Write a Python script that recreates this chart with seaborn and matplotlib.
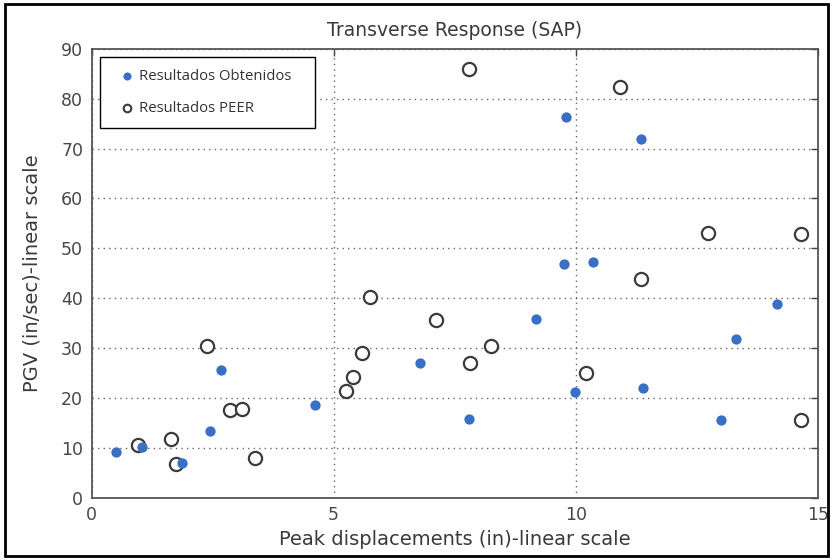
import matplotlib
matplotlib.use("Agg")
import matplotlib.pyplot as plt
import seaborn as sns
import pandas as pd
from matplotlib.patches import Rectangle

# Resultados Obtenidos (filled markers)
obt_disp = [0.51, 1.04, 1.87, 2.44, 2.67, 4.61, 6.78, 7.79, 9.18, 9.75,
            9.80, 9.99, 10.35, 11.34, 11.39, 12.99, 13.31, 14.15]
obt_pgv = [9.2, 10.1, 6.9, 13.4, 25.7, 18.7, 27.0, 15.8, 35.9, 46.9,
           76.3, 21.3, 47.3, 71.9, 22.0, 15.5, 31.8, 38.8]

# Resultados PEER (open markers)
peer_disp = [0.96, 1.64, 1.75, 2.38, 2.87, 3.11, 3.37, 5.26, 5.41, 5.58,
             5.75, 7.12, 7.80, 7.82, 8.25, 10.22, 10.92, 11.34, 12.74,
             14.65, 14.65]
peer_pgv = [10.5, 11.7, 6.85, 30.4, 17.7, 17.9, 8.05, 21.4, 24.2, 29.1,
            40.2, 35.6, 85.9, 27.1, 30.4, 25.1, 82.3, 43.8, 53.1,
            52.8, 15.5]

x_ticks = [0, 5, 10, 15]
y_ticks = [0, 10, 20, 30, 40, 50, 60, 70, 80, 90]

obt = pd.DataFrame({"disp": obt_disp, "pgv": obt_pgv})
peer = pd.DataFrame({"disp": peer_disp, "pgv": peer_pgv})

sns.set_style("white")
plt.rcParams["font.family"] = ["DejaVu Sans"]

fig = plt.figure(figsize=(8.32, 5.60), dpi=100)
ax = fig.add_axes([0.110, 0.111, 0.873, 0.802])

sns.scatterplot(data=peer, x="disp", y="pgv", ax=ax, marker="o", s=90,
                facecolor="white", edgecolor="#3a3a40", linewidth=1.6,
                label="Resultados PEER", zorder=3)
sns.scatterplot(data=obt, x="disp", y="pgv", ax=ax, marker="o", s=55,
                color="#3a6fc6", edgecolor="#3a6fc6", linewidth=0,
                label="Resultados Obtenidos", zorder=4)

ax.set_xlim(0, 15)
ax.set_ylim(0, 90)
ax.set_xticks(x_ticks)
ax.set_yticks(y_ticks)
ax.grid(True, linestyle=(0, (1, 3)), color="#666666", linewidth=1.0)
ax.set_axisbelow(True)
ax.tick_params(direction="in", length=5, width=1, colors="#444444",
               labelsize=12.5, labelcolor="#484848", top=True, right=True,
               pad=6)
for sp in ax.spines.values():
    sp.set_color("#555555")
    sp.set_linewidth(1.3)

ax.set_title("Transverse Response (SAP)", fontsize=13.5, color="#3a3a3a",
             pad=9)
ax.set_xlabel("Peak displacements (in)-linear scale", fontsize=14,
              color="#3a3a3a", labelpad=4)
ax.set_ylabel("PGV (in/sec)-linear scale", fontsize=14, color="#3a3a3a",
              labelpad=14)

handles, labels = ax.get_legend_handles_labels()
order = [labels.index("Resultados Obtenidos"), labels.index("Resultados PEER")]
leg = ax.legend([handles[i] for i in order], [labels[i] for i in order],
                loc="upper left", bbox_to_anchor=(0.0116, 0.5, 0.296, 0.482),
                mode="expand", frameon=True, fancybox=False,
                edgecolor="black", framealpha=1,
                handletextpad=-0.2, handlelength=2.0, borderpad=0.8,
                labelspacing=1.15, borderaxespad=0,
                prop={"family": ["Open Sans", "DejaVu Sans"], "size": 10.7})
leg.get_frame().set_linewidth(1.0)
for t in leg.get_texts():
    t.set_color("#333333")
leg_h = leg.legend_handles
leg_h[0].set_sizes([34])
leg_h[1].set_sizes([30])
leg_h[1].set_linewidth(1.5)

fig.patches.append(Rectangle((0.006, 0.007), 0.989, 0.986,
                             transform=fig.transFigure, fill=False,
                             edgecolor="black", linewidth=2.0))

fig.savefig("out.png", dpi=100)
